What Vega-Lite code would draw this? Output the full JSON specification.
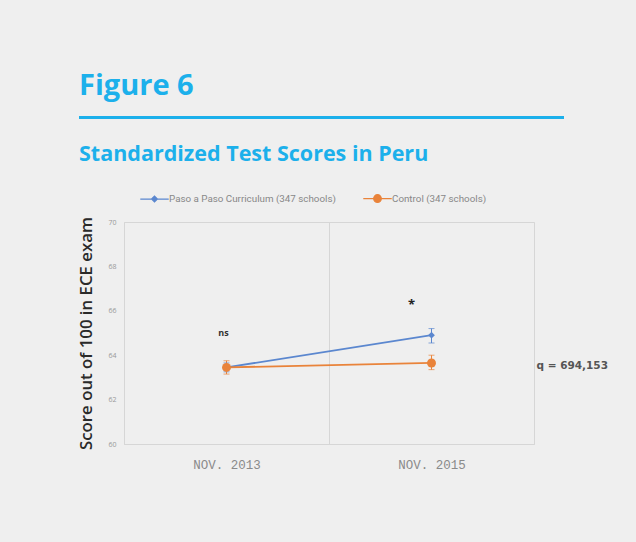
{
  "$schema": "https://vega.github.io/schema/vega-lite/v6.json",
  "background": "#efefef",
  "padding": {"left": 78, "top": 72, "right": 29, "bottom": 75},
  "config": {
    "view": {"stroke": null},
    "font": "Open Sans",
    "title": {"anchor": "start", "frame": "bounds", "color": "#1cb0eb", "font": "Open Sans", "fontWeight": "bold"}
  },
  "spacing": 26,
  "resolve": {"legend": {"color": "independent"}},
  "data": {"values": [
    {"time": "NOV. 2013", "series": "Paso a Paso Curriculum (347 schools)", "score": 63.45, "lo": 63.25, "hi": 63.65},
    {"time": "NOV. 2015", "series": "Paso a Paso Curriculum (347 schools)", "score": 64.9, "lo": 64.55, "hi": 65.2},
    {"time": "NOV. 2013", "series": "Control (347 schools)", "score": 63.45, "lo": 63.15, "hi": 63.75},
    {"time": "NOV. 2015", "series": "Control (347 schools)", "score": 63.65, "lo": 63.35, "hi": 64.0}
  ]},
  "vconcat": [
    {
      "title": {"text": "Figure 6", "fontSize": 29, "offset": 15, "dx": -45},
      "width": 410,
      "height": 1,
      "mark": {"type": "tick", "opacity": 0},
      "encoding": {
        "x": {"field": "score", "type": "quantitative", "scale": {"range": [-45.5, 439.5]}, "axis": {"domainColor": "#1cb0eb", "domainWidth": 3, "ticks": false, "labels": false, "title": null, "grid": false}}
      }
    },
    {
      "title": {"text": "Standardized Test Scores in Peru", "fontSize": 21.5, "offset": 23},
      "width": 410,
      "height": 222,
      "view": {"stroke": "#d6d6d6"},
      "encoding": {
        "x": {"field": "time", "type": "nominal", "scale": {"paddingInner": 0, "paddingOuter": 0},
          "axis": {"title": null, "labelAngle": 0, "ticks": false, "domainColor": "#d6d6d6", "grid": true, "gridColor": "#d6d6d6", "tickBand": "extent", "labelFont": "Liberation Mono", "labelFontSize": 12.5, "labelColor": "#8a8a8a", "labelPadding": 14}},
        "y": {"field": "score", "type": "quantitative", "scale": {"domain": [60, 70]},
          "axis": {"values": [60, 62, 64, 66, 68, 70], "grid": false, "ticks": false, "domainColor": "#d6d6d6", "labelFontSize": 7, "labelColor": "#999", "labelPadding": 8, "title": "Score out of 100 in ECE exam", "titleFontSize": 16.8, "titleFontWeight": 600, "titleColor": "#2a2a2a", "titlePadding": 12}},
        "color": {"field": "series", "type": "nominal",
          "scale": {"domain": ["Paso a Paso Curriculum (347 schools)", "Control (347 schools)"], "range": ["#5b87cf", "#e9833a"]},
          "legend": {"orient": "none", "legendX": 20, "legendY": -34, "direction": "horizontal", "title": null, "labelFont": "Roboto", "labelFontSize": 9.8, "labelColor": "#888", "labelLimit": 300, "symbolSize": 360, "columnPadding": 24, "labelOffset": 4,
            "encode": {"symbols": {"update": {
              "shape": {"signal": "datum.value === 'Control (347 schools)' ? 'M-1.5,0H1.5M-0.4,0A0.4,0.4 0 1,0 0.4,0A0.4,0.4 0 1,0 -0.4,0Z' : 'M-1.5,0H1.5M-0.3,0L0,-0.3L0.3,0L0,0.3Z'"},
              "fill": {"scale": "color", "field": "value"},
              "stroke": {"scale": "color", "field": "value"},
              "strokeWidth": {"value": 1.3},
              "opacity": {"value": 1},
              "fillOpacity": {"value": 1}
            }}}}}
      },
      "layer": [
        {"mark": {"type": "line", "strokeWidth": 1.8}},
        {"mark": {"type": "rule", "strokeWidth": 1}, "encoding": {"y": {"field": "lo", "type": "quantitative"}, "y2": {"field": "hi"}}},
        {"mark": {"type": "tick", "orient": "horizontal", "size": 6, "thickness": 1}, "encoding": {"y": {"field": "lo", "type": "quantitative"}}},
        {"mark": {"type": "tick", "orient": "horizontal", "size": 6, "thickness": 1}, "encoding": {"y": {"field": "hi", "type": "quantitative"}}},
        {"transform": [{"filter": "datum.series !== 'Control (347 schools)'"}], "mark": {"type": "point", "shape": "diamond", "filled": true, "size": 45, "opacity": 1}},
        {"transform": [{"filter": "datum.series === 'Control (347 schools)'"}], "mark": {"type": "point", "shape": "circle", "filled": true, "size": 80, "opacity": 1}},
        {
          "data": {"values": [{"time": "NOV. 2013", "score": 65.0, "label": "ns"}]},
          "mark": {"type": "text", "dx": -3, "fontWeight": "bold", "fontSize": 9, "color": "#333"},
          "encoding": {"text": {"field": "label"}, "y": {"field": "score", "type": "quantitative"}, "color": {"value": "#333"}}
        },
        {
          "data": {"values": [{"time": "NOV. 2015", "score": 66.25, "label": "*"}]},
          "mark": {"type": "text", "dx": -20, "fontWeight": "bold", "fontSize": 13, "color": "#222"},
          "encoding": {"text": {"field": "label"}, "y": {"field": "score", "type": "quantitative"}, "color": {"value": "#222"}}
        },
        {
          "data": {"values": [{"time": "NOV. 2015", "score": 63.5, "label": "q = 694,153"}]},
          "mark": {"type": "text", "align": "left", "dx": 105, "fontSize": 10.5, "fontWeight": "bold", "font": "DejaVu Sans", "color": "#555"},
          "encoding": {"text": {"field": "label"}, "y": {"field": "score", "type": "quantitative"}, "color": {"value": "#555"}}
        }
      ]
    }
  ]
}
